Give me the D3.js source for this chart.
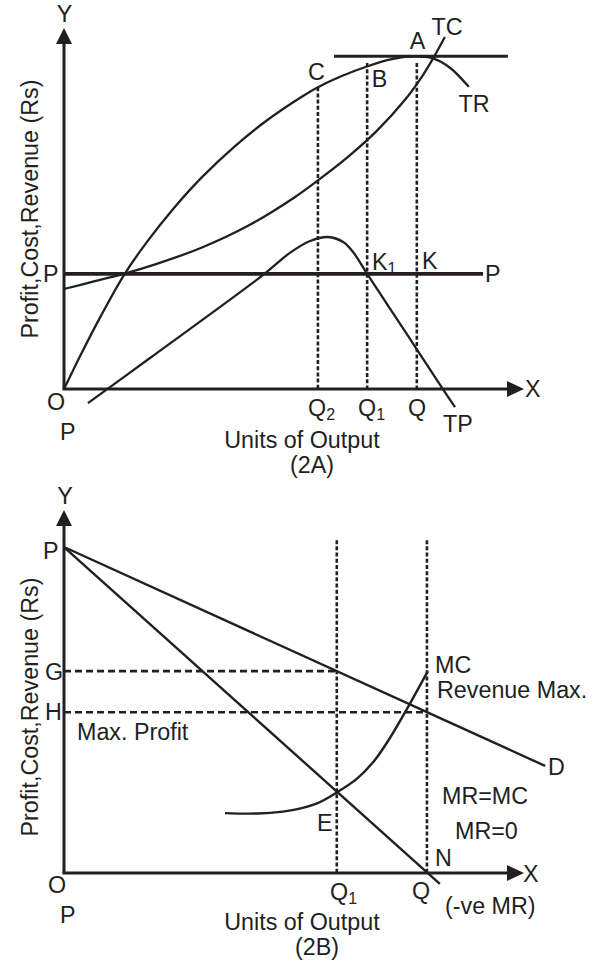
<!DOCTYPE html>
<html><head><meta charset="utf-8">
<script src="https://cdn.jsdelivr.net/npm/d3@7"></script>
<style>
html,body{margin:0;padding:0;background:#fff;}
svg{display:block;}
text{font-family:"Liberation Sans",Arial,Helvetica,sans-serif;font-size:23.3px;fill:#231f20;}
</style>
</head><body>
<svg id="c" width="596" height="969"></svg>
<script>
// ---------- Panel 2A data (x: units of output 0-100, y: Rs 0-100) ----------
const trCurve = [[0,0],[4,10.4],[8,20.2],[13,31.5],[18,40.7],[24,50.3],[30,58.7],[37,67.1],[44,74.3],[51,80.4],[55.2,83.6],[60,86.5],[66,89.4],[71,91.3],[75.2,92.1],[80.2,91.6],[83.9,89.0],[88.0,83.7]];
const tcCurve = [[0,27.7],[6.5,29.8],[13,31.9],[20,34.6],[30,39.2],[40,45.2],[50,53.0],[55.2,57.8],[62,64.6],[68,71.5],[74,79.9],[78,86.9],[80.2,91.5],[82.8,97.5]];
const tpCurve = [[5.2,-3.9],[18.7,8.6],[43.3,31.6],[49.1,37.7],[53.5,41.0],[57.4,42.1],[60.7,40.7],[62.8,38.0],[65.9,31.9],[70.9,22.2],[76.7,11.0],[82.4,-0.1],[85.0,-5.0]];
const outputNamesA = ["Q2","Q1","Q"];
const outputValuesA = [55.2, 65.9, 76.7];
const outputTopsA = [83.6, 90.3, 90.3];
const priceLevelA = 31.9;
const priceLineEndA = 91.1;
const maxRevenueLevelA = 92.2;
const maxRevenueSpanA = [58.7, 96.5];

// ---------- Panel 2B data ----------
const demandLine = [[0,89.8],[104.6,29.5]];
const mrLine = [[0,89.8],[81.7,-3.0]];
const mcCurve = [[35.0,16.5],[42.0,16.4],[49.0,17.2],[55.0,19.2],[59.3,22.2],[63.7,26.0],[67.5,31.0],[71.0,37.5],[75.0,46.2],[79.1,55.6]];
const outputNamesB = ["Q1","Q"];
const outputValuesB = [59.3, 78.9];
const levelNamesB = ["G","H"];
const levelValuesB = [55.6, 44.3];
const dashedTopB = 91.7;

const INK = "#231f20";
const svg = d3.select("#c");
svg.append("rect").attr("width",596).attr("height",969).attr("fill","#fff");

function axes(g, x, y) {
  const x0 = x(0), y0 = y(0), yt = y(100), xt = x(100);
  g.append("line").attr("x1",x0).attr("y1",y0).attr("x2",x0).attr("y2",yt+14)
    .attr("stroke",INK).attr("stroke-width",3);
  g.append("path").attr("d",`M${x0},${yt}L${x0-8},${yt+16}L${x0+8},${yt+16}Z`).attr("fill",INK);
  g.append("line").attr("x1",x0-1.5).attr("y1",y0).attr("x2",xt-14).attr("y2",y0)
    .attr("stroke",INK).attr("stroke-width",3);
  g.append("path").attr("d",`M${xt},${y0}L${xt-17},${y0-8}L${xt-17},${y0+8}Z`).attr("fill",INK);
}
function txt(g, s, x, y, anchor) {
  return g.append("text").attr("x",x).attr("y",y).attr("text-anchor",anchor||"start").text(s);
}
function sub(g, main, s, x, y) {
  const t = g.append("text").attr("x",x).attr("y",y);
  t.append("tspan").text(main);
  t.append("tspan").attr("dy",4).style("font-size","16px").text(s);
  return t;
}
function ylabel(g, cy) {
  g.append("text").attr("transform",`translate(38,${cy}) rotate(-90)`)
    .attr("text-anchor","middle").text("Profit,Cost,Revenue (Rs)");
}

// ================= Panel 2A =================
{
  const g = svg.append("g");
  const x = d3.scaleLinear().domain([0,100]).range([64,524]);
  const y = d3.scaleLinear().domain([0,100]).range([389,28]);
  const line = d3.line().x(d=>x(d[0])).y(d=>y(d[1])).curve(d3.curveCatmullRom.alpha(0.5));

  outputValuesA.forEach((q,i)=>{
    g.append("line").attr("x1",x(q)).attr("x2",x(q)).attr("y1",y(outputTopsA[i])).attr("y2",y(0))
      .attr("stroke",INK).attr("stroke-width",2.6).attr("stroke-dasharray","4,2.2");
  });
  g.append("line").attr("x1",x(0)).attr("x2",x(priceLineEndA)).attr("y1",y(priceLevelA)).attr("y2",y(priceLevelA))
    .attr("stroke",INK).attr("stroke-width",3.6);
  g.append("line").attr("x1",x(maxRevenueSpanA[0])).attr("x2",x(maxRevenueSpanA[1]))
    .attr("y1",y(maxRevenueLevelA)).attr("y2",y(maxRevenueLevelA))
    .attr("stroke",INK).attr("stroke-width",3);
  [trCurve, tcCurve, tpCurve].forEach(c=>{
    g.append("path").attr("d",line(c)).attr("fill","none").attr("stroke",INK).attr("stroke-width",2.3);
  });
  axes(g, x, y);

  txt(g,"Y",64.5,22,"middle");
  txt(g,"TC",447,35,"middle");
  txt(g,"A",417.5,49,"middle");
  txt(g,"C",316.5,80,"middle");
  txt(g,"B",379.5,87,"middle");
  txt(g,"TR",474,112,"middle");
  txt(g,"P",43,282);
  sub(g,"K","1",372,270);
  txt(g,"K",422,269);
  txt(g,"P",485,282);
  txt(g,"X",525,397);
  const qx = [308,358,408];
  outputNamesA.forEach((n,i)=>{
    if (n.length>1) sub(g,n[0],n.slice(1),qx[i],416); else txt(g,n,qx[i],416);
  });
  txt(g,"TP",443,432);
  txt(g,"O",47,410);
  txt(g,"P",60,440);
  txt(g,"Units of Output",302,448,"middle");
  txt(g,"(2A)",312,473,"middle");
  ylabel(g,209);
}

// ================= Panel 2B =================
{
  const g = svg.append("g");
  const x = d3.scaleLinear().domain([0,100]).range([64,524]);
  const y = d3.scaleLinear().domain([0,100]).range([873,510]);
  const line = d3.line().x(d=>x(d[0])).y(d=>y(d[1]));
  const curve = d3.line().x(d=>x(d[0])).y(d=>y(d[1])).curve(d3.curveCatmullRom.alpha(0.5));

  outputValuesB.forEach(q=>{
    g.append("line").attr("x1",x(q)).attr("x2",x(q)).attr("y1",y(dashedTopB)).attr("y2",y(0))
      .attr("stroke",INK).attr("stroke-width",2.6).attr("stroke-dasharray","4,2.2");
  });
  levelValuesB.forEach((v,i)=>{
    g.append("line").attr("x1",x(0)).attr("x2",x(outputValuesB[i])).attr("y1",y(v)).attr("y2",y(v))
      .attr("stroke",INK).attr("stroke-width",2.6).attr("stroke-dasharray","7,4");
  });
  g.append("path").attr("d",line(demandLine)).attr("fill","none").attr("stroke",INK).attr("stroke-width",2.4);
  g.append("path").attr("d",line(mrLine)).attr("fill","none").attr("stroke",INK).attr("stroke-width",2.4);
  g.append("path").attr("d",curve(mcCurve)).attr("fill","none").attr("stroke",INK).attr("stroke-width",2.4);
  axes(g, x, y);

  txt(g,"Y",65,504,"middle");
  txt(g,"P",43,559);
  txt(g,levelNamesB[0],45,680);
  txt(g,levelNamesB[1],45,720);
  txt(g,"Max. Profit",77,740);
  txt(g,"MC",435,673);
  txt(g,"Revenue Max.",437,698);
  txt(g,"D",548,775);
  txt(g,"MR=MC",442,804);
  txt(g,"MR=0",455,839);
  txt(g,"N",435,866);
  txt(g,"E",317,831);
  sub(g,"Q","1",330,900);
  txt(g,"Q",412,899);
  txt(g,"(-ve MR)",445,914);
  txt(g,"X",523,882);
  txt(g,"O",48,893);
  txt(g,"P",60,923);
  txt(g,"Units of Output",302,930,"middle");
  txt(g,"(2B)",317,955,"middle");
  ylabel(g,707);
}
</script>
</body></html>
